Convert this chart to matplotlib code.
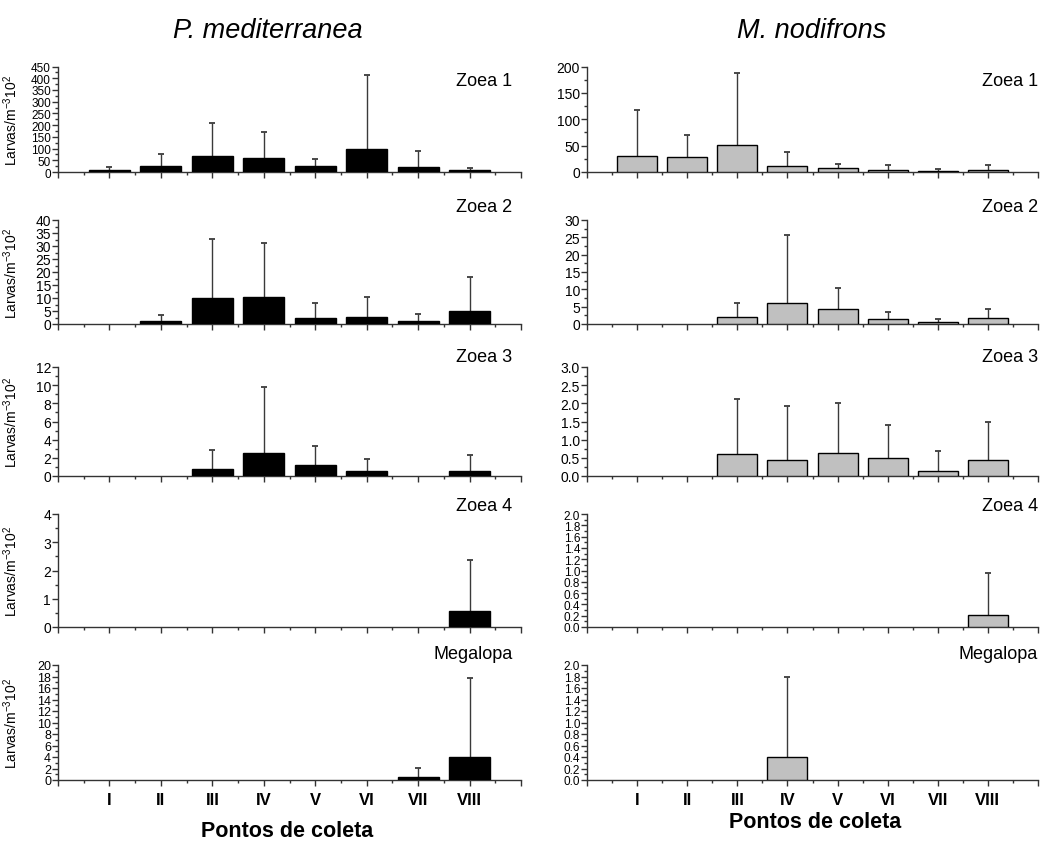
import matplotlib
matplotlib.use('Agg')
import matplotlib.pyplot as plt
from matplotlib.ticker import MultipleLocator, FormatStrFormatter

plt.rcParams['font.family'] = ['Liberation Sans', 'DejaVu Sans']
plt.rcParams['mathtext.default'] = 'regular'

pontos = ['I', 'II', 'III', 'IV', 'V', 'VI', 'VII', 'VIII']
estagios = ['Zoea 1', 'Zoea 2', 'Zoea 3', 'Zoea 4', 'Megalopa']

# P. mediterranea: media e desvio (so para cima)
pm_z1 = [10, 25, 70, 59, 25, 98, 22, 8]
pm_z1_sd = [11, 52, 141, 113, 31, 315, 67, 9]
pm_z2 = [0, 1.0, 10.0, 10.2, 2.3, 2.6, 1.0, 5.1]
pm_z2_sd = [0, 2.6, 22.7, 21.1, 5.9, 7.6, 2.7, 12.9]
pm_z3 = [0, 0, 0.8, 2.5, 1.2, 0.58, 0, 0.58]
pm_z3_sd = [0, 0, 2.1, 7.35, 2.15, 1.27, 0, 1.77]
pm_z4 = [0, 0, 0, 0, 0, 0, 0, 0.55]
pm_z4_sd = [0, 0, 0, 0, 0, 0, 0, 1.81]
pm_meg = [0, 0, 0, 0, 0, 0, 0.5, 4.0]
pm_meg_sd = [0, 0, 0, 0, 0, 0, 1.6, 13.7]

# M. nodifrons
mn_z1 = [30, 28, 51, 12, 7, 4, 2.5, 4]
mn_z1_sd = [87, 43, 136, 26, 9, 9, 2.5, 10]
mn_z2 = [0, 0, 1.9, 6.2, 4.2, 1.3, 0.5, 1.6]
mn_z2_sd = [0, 0, 4.2, 19.4, 6.2, 2.2, 0.9, 2.6]
mn_z3 = [0, 0, 0.61, 0.43, 0.63, 0.5, 0.15, 0.43]
mn_z3_sd = [0, 0, 1.51, 1.5, 1.37, 0.9, 0.54, 1.05]
mn_z4 = [0, 0, 0, 0, 0, 0, 0, 0.21]
mn_z4_sd = [0, 0, 0, 0, 0, 0, 0, 0.74]
mn_meg = [0, 0, 0, 0.4, 0, 0, 0, 0]
mn_meg_sd = [0, 0, 0, 1.4, 0, 0, 0, 0]

# limites e passos do eixo y
pm_ylim = [450, 40, 12, 4, 20]
pm_major = [50, 5, 2, 1, 2]
pm_fmt = ['%d', '%d', '%d', '%d', '%d']
pm_fs = [8.5, 10, 10, 10, 9]
mn_ylim = [200, 30, 3.0, 2.0, 2.0]
mn_major = [50, 5, 0.5, 0.2, 0.2]
mn_fmt = ['%d', '%d', '%.1f', '%.1f', '%.1f']
mn_fs = [10, 10, 10, 8.5, 8.5]

pm_data = [(pm_z1, pm_z1_sd), (pm_z2, pm_z2_sd), (pm_z3, pm_z3_sd), (pm_z4, pm_z4_sd), (pm_meg, pm_meg_sd)]
mn_data = [(mn_z1, mn_z1_sd), (mn_z2, mn_z2_sd), (mn_z3, mn_z3_sd), (mn_z4, mn_z4_sd), (mn_meg, mn_meg_sd)]

W, H = 1056, 845
fig = plt.figure(figsize=(W / 100, H / 100), dpi=100)

rows = [(67.5, 173), (221, 325), (368, 477), (515, 628), (666, 781)]
label_y = [81, 207, 357, 507, 655]
cols = [(58, 521), (587, 1038)]

x = list(range(1, 9))

for c, (dados, ylims, majors, fmts, fss, cor) in enumerate([
        (pm_data, pm_ylim, pm_major, pm_fmt, pm_fs, 'black'),
        (mn_data, mn_ylim, mn_major, mn_fmt, mn_fs, '#c0c0c0')]):
    x0, x1 = cols[c]
    for r in range(5):
        top, bot = rows[r]
        ax = fig.add_axes([x0 / W, 1 - bot / H, (x1 - x0) / W, (bot - top) / H])
        vals, sd = dados[r]
        for xi, v, s in zip(x, vals, sd):
            if v > 0:
                ax.bar(xi, v, width=0.8, color=cor, edgecolor='black', linewidth=1, zorder=3)
            if s > 0:
                eb = ax.errorbar(xi, v, yerr=[[0], [s]], fmt='none', ecolor='#3a3a3a',
                                 elinewidth=1, capsize=2, capthick=1.3, zorder=2)
                eb[1][0].set_visible(False)  # sem traco na base
        ax.set_xlim(0, 9)
        ax.set_ylim(0, ylims[r])
        ax.xaxis.set_major_locator(MultipleLocator(1))
        ax.xaxis.set_minor_locator(MultipleLocator(0.5))
        ax.yaxis.set_major_locator(MultipleLocator(majors[r]))
        ax.yaxis.set_minor_locator(MultipleLocator(majors[r] / 2))
        ax.yaxis.set_major_formatter(FormatStrFormatter(fmts[r]))
        for s in ['top', 'right']:
            ax.spines[s].set_visible(False)
        for s in ['left', 'bottom']:
            ax.spines[s].set_color('#333333')
            ax.spines[s].set_linewidth(1)
            ax.spines[s].set_zorder(1)
        ax.tick_params(axis='both', which='major', direction='out', length=4, width=1,
                       color='#333333', labelsize=fss[r], pad=1)
        ax.tick_params(axis='both', which='minor', direction='out', length=2, width=1,
                       color='#333333')
        if r == 4:
            ax.set_xticks(range(0, 10))
            ax.set_xticklabels([''] + pontos + [''], fontweight='bold', fontsize=12)
            ax.tick_params(axis='x', which='major', pad=5)
        else:
            ax.set_xticklabels([])
        if c == 0:
            ax.set_ylabel('Larvas/m$^{-3}$10$^{2}$', fontsize=10)
            ax.yaxis.set_label_coords(-0.082, 0.5)
        fig.text(x1 / W - 0.008 + c * 0.008, 1 - label_y[r] / H, estagios[r],
                 ha='right', va='center', fontsize=13)

fig.text(268 / W, 1 - 31 / H, 'P. mediterranea', ha='center', va='center', fontsize=19.5, style='italic')
fig.text(812 / W, 1 - 31 / H, 'M. nodifrons', ha='center', va='center', fontsize=19.5, style='italic')
fig.text(287 / W, 1 - 832 / H, 'Pontos de coleta', ha='center', va='center', fontsize=15.5, fontweight='bold')
fig.text(815 / W, 1 - 823 / H, 'Pontos de coleta', ha='center', va='center', fontsize=15.5, fontweight='bold')

plt.savefig('out.png', dpi=100)
